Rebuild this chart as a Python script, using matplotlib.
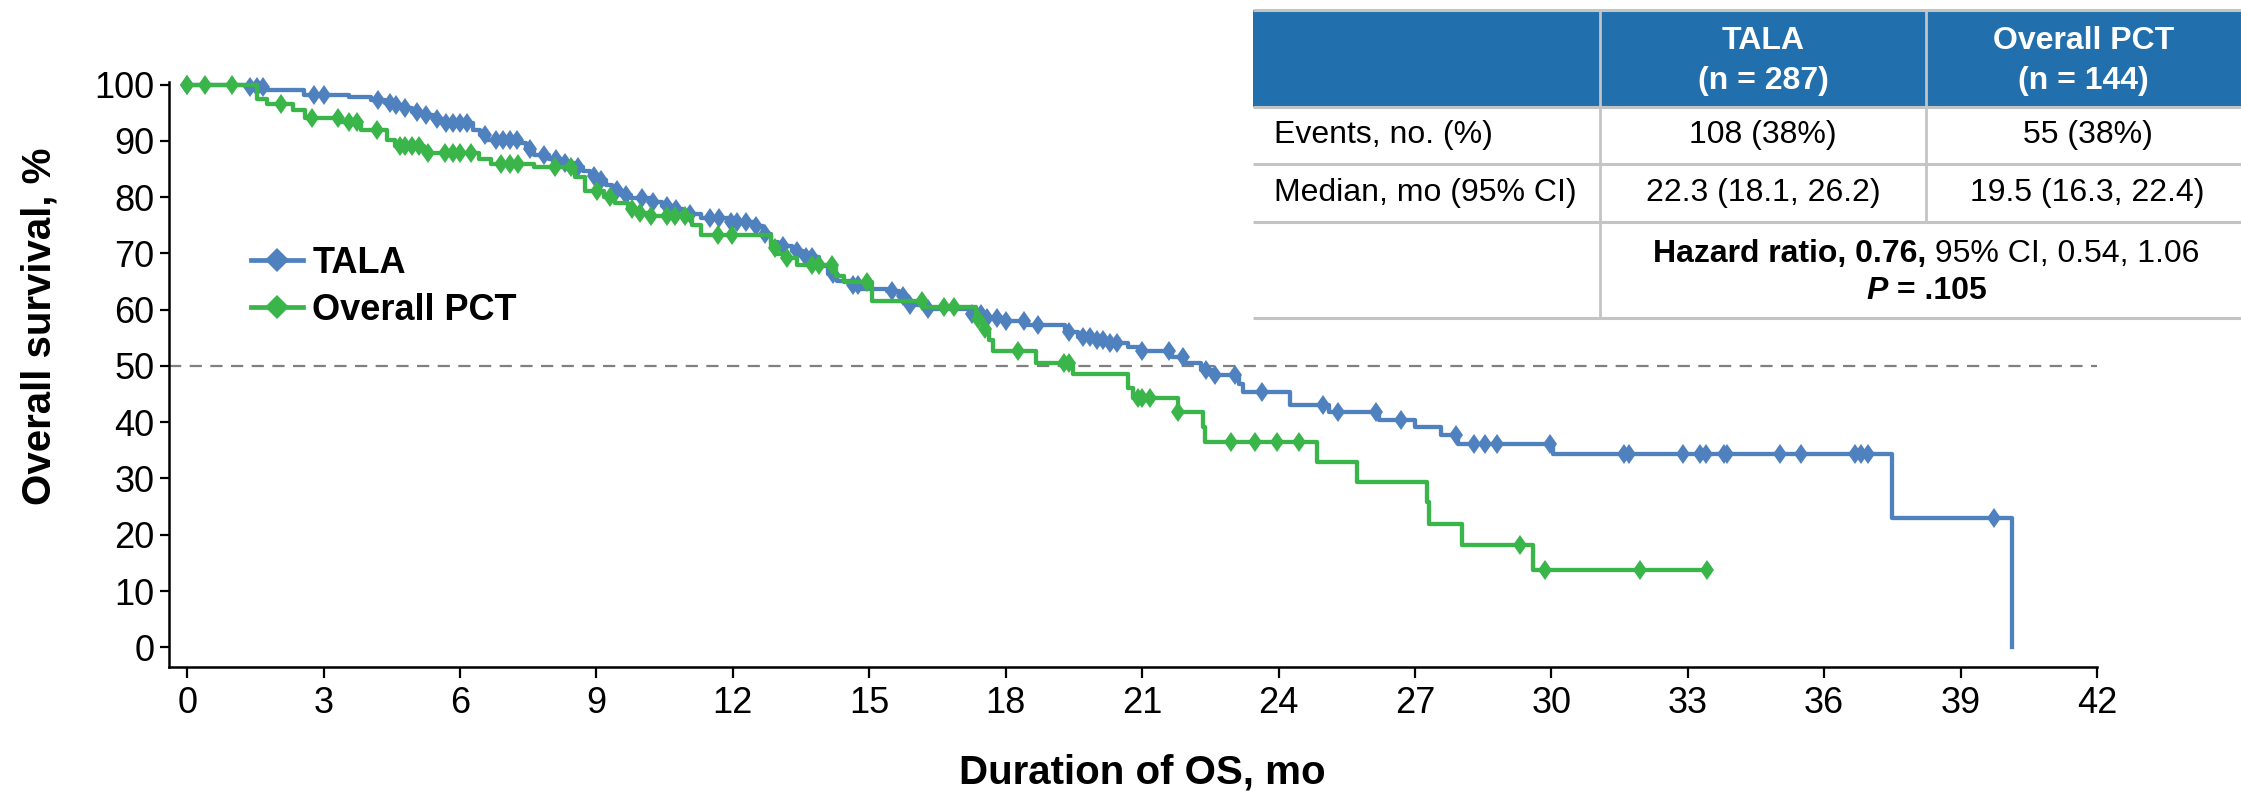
import numpy as np
import matplotlib
matplotlib.use("Agg")
import matplotlib.pyplot as plt
from matplotlib.lines import Line2D
from matplotlib.markers import MarkerStyle
from matplotlib.patches import Rectangle
from matplotlib.transforms import Affine2D

plt.rcParams['font.family'] = ['Liberation Sans', 'DejaVu Sans']

# --- KM data (months, % surviving after each event) ---
tala_t = [1.3, 1.7, 2.56, 3.55, 4.04, 4.35, 4.5, 4.7, 4.95, 5.15, 5.4, 5.6, 6.28, 6.45, 6.6,
          7.3, 7.45, 7.62, 7.95, 8.2, 8.5, 8.7, 8.85, 9.05, 9.2, 9.35, 9.55, 9.75, 10.2, 10.45,
          10.7, 10.9, 11.3, 11.9, 12.5, 12.66, 12.84, 13.0, 13.3, 13.55, 13.9, 14.1, 14.3, 14.6,
          14.8, 15.4, 15.65, 15.85, 16.3, 17.2, 17.6, 18.0, 18.5, 19.3, 19.6, 19.9, 20.3, 20.7,
          21.0, 21.65, 21.95, 22.3, 22.55, 23.14, 23.22, 24.26, 25.1, 26.2, 27.0, 27.58, 27.94,
          30.03, 37.5, 40.12]
tala_s = [99.5, 99.0, 98.2, 97.8, 97.2, 96.8, 96.3, 95.8, 95.2, 94.6, 93.9, 93.1, 92.0, 91.0, 90.2,
          89.6, 88.5, 87.5, 86.7, 86.1, 85.4, 84.6, 83.8, 83.1, 82.1, 81.2, 80.4, 79.9, 79.1, 78.5,
          77.8, 77.0, 76.3, 75.5, 74.8, 73.4, 72.0, 71.3, 70.4, 69.4, 67.8, 66.4, 65.0, 64.3,
          63.7, 63.3, 62.4, 60.9, 60.2, 59.3, 58.6, 57.9, 57.3, 56.0, 55.2, 54.6, 54.0, 53.4,
          52.7, 51.6, 50.5, 49.3, 48.4, 46.8, 45.4, 43.0, 41.8, 40.4, 39.1, 37.7, 36.2,
          34.4, 22.9, 0.0]
tala_cens = [0.0, 1.39, 1.53, 1.66, 2.78, 3.0, 4.19, 4.45, 4.6, 4.8, 5.05, 5.25, 5.5, 5.7, 5.85,
             6.0, 6.15, 6.55, 6.8, 6.95, 7.1, 7.25, 7.55, 7.85, 8.1, 8.3, 8.6, 8.95, 9.1, 9.45,
             9.65, 10.0, 10.25, 10.55, 10.75, 11.05, 11.5, 11.7, 11.95, 12.1, 12.3, 12.5, 12.7,
             13.1, 13.4, 13.6, 13.75, 14.2, 14.65, 14.75, 15.5, 15.75, 15.9, 16.3, 17.25, 17.45,
             17.6, 17.8, 18.0, 18.4, 18.7, 19.4, 19.7, 19.85, 20.0, 20.15, 20.3, 20.45, 21.0,
             21.6, 21.9, 22.4, 22.6, 23.05, 23.64, 24.98, 25.3, 26.15, 26.7, 27.9, 28.3, 28.54,
             28.8, 29.98, 31.6, 31.7, 32.9, 33.28, 33.4, 33.8, 33.86, 35.03, 35.5, 36.67, 36.82,
             36.96, 39.74]

pct_t = [1.53, 1.75, 2.33, 2.6, 3.37, 3.82, 4.4, 4.58, 5.2, 6.42, 6.69, 7.63, 8.53, 8.75, 9.16,
         9.4, 9.7, 9.9, 10.15, 11.1, 11.3, 12.84, 12.95, 13.1, 13.4, 14.26, 14.44, 15.07, 16.2,
         17.35, 17.5, 17.63, 17.72, 18.66, 19.47, 20.68, 20.8, 21.8, 22.34, 22.38, 24.85, 25.73,
         27.27, 27.3, 28.03, 29.6]
pct_s = [97.5, 96.5, 95.4, 94.0, 93.3, 91.9, 90.2, 89.1, 87.9, 86.7, 85.9, 85.3, 83.5, 81.1, 80.0,
         79.0, 77.9, 77.2, 76.6, 75.0, 73.2, 71.0, 69.8, 69.2, 68.0, 66.0, 64.9, 61.6, 60.4,
         58.4, 56.5, 54.6, 52.6, 50.5, 48.6, 46.0, 44.3, 41.8, 39.2, 36.5, 32.9, 29.3,
         25.8, 21.9, 18.1, 13.7]
pct_cens = [0.0, 0.4, 0.99, 2.06, 2.74, 3.32, 3.55, 3.73, 4.17, 4.67, 4.8, 4.95, 5.1, 5.3, 5.66,
            5.85, 6.01, 6.24, 6.91, 7.1, 7.27, 8.08, 8.44, 9.02, 9.3, 9.78, 9.96, 10.2, 10.55,
            10.73, 10.95, 11.67, 11.98, 12.93, 13.2, 13.75, 13.9, 14.17, 14.94, 16.15, 16.64,
            16.87, 17.4, 17.55, 18.27, 19.29, 19.4, 20.9, 21.0, 21.17, 21.8, 22.96, 23.48,
            23.97, 24.44, 29.31, 29.87, 31.95, 33.43]

x_ticks = list(range(0, 43, 3))
y_ticks = list(range(0, 101, 10))

# table text
col_heads = [("TALA", "(n = 287)"), ("Overall PCT", "(n = 144)")]
row_labels = ["Events, no. (%)", "Median, mo (95% CI)"]
tala_cells = ["108 (38%)", "22.3 (18.1, 26.2)"]
pct_cells = ["55 (38%)", "19.5 (16.3, 22.4)"]
hr_bold = "Hazard ratio, 0.76,"
hr_rest = " 95% CI, 0.54, 1.06"
p_italic = "P"
p_rest = " = .105"

BLUE = '#4f81bf'
GREEN = '#39b54a'
HEAD = '#2170ad'
GRID = '#c4c4c4'

W, H = 2241, 792
fig = plt.figure(figsize=(W / 100, H / 100), dpi=100)
ax = fig.add_axes([0.07541, 0.15783, 0.86033, 0.73901])

# slightly narrow diamond used for censor ticks
cens_marker = MarkerStyle('D', transform=Affine2D().scale(0.72, 1.0))


def km_xy(times, surv, cens):
    x = np.r_[0.0, times]
    y = np.r_[100.0, surv]
    if max(cens) > x[-1]:
        x = np.r_[x, max(cens)]
        y = np.r_[y, y[-1]]
    return x, y


def surv_at(times, surv, tc):
    idx = np.searchsorted(times, tc, side='right')
    return np.r_[100.0, surv][idx]


for t, s, c, col, z in [(tala_t, tala_s, tala_cens, BLUE, 3), (pct_t, pct_s, pct_cens, GREEN, 4)]:
    x, y = km_xy(t, s, c)
    ax.step(x, y, where='post', color=col, lw=3.1, clip_on=False, zorder=z)
    ax.plot(c, surv_at(t, s, c), ls='none', marker=cens_marker, ms=10.3, mew=0, color=col,
            clip_on=False, zorder=z)

ax.axhline(50, color='#808080', lw=1.6, dashes=(5.5, 3.8), zorder=2)

ax.set_xlim(-0.4, 42)
ax.set_ylim(-3.5, 100.5)
ax.set_xticks(x_ticks)
ax.set_yticks(y_ticks)
for sp in ['top', 'right']:
    ax.spines[sp].set_visible(False)
for sp in ['left', 'bottom']:
    ax.spines[sp].set_linewidth(1.8)
ax.tick_params(axis='x', labelsize=26, width=1.6, length=8, pad=6)
ax.tick_params(axis='y', labelsize=26, width=1.6, length=6.5, pad=4)

handles = [Line2D([], [], color=BLUE, lw=3.4, marker='D', ms=12.2, mew=0),
           Line2D([], [], color=GREEN, lw=3.4, marker='D', ms=12.2, mew=0)]
ax.legend(handles, ['TALA', 'Overall PCT'], loc='upper left',
          bbox_to_anchor=(251 / W, 1 - 246 / H), bbox_transform=fig.transFigure,
          frameon=False, prop={'weight': 'bold', 'size': 26}, handlelength=1.45,
          handletextpad=0.25, labelspacing=0.32, borderpad=0, borderaxespad=0, numpoints=1)

fig.text(40 / W, 1 - 326 / H, 'Overall survival, %', rotation=90, ha='center', va='center',
         fontsize=29, fontweight='bold')
fig.text(1142 / W, 9 / H, 'Duration of OS, mo', ha='center', va='baseline',
         fontsize=29, fontweight='bold')

# --- summary table drawn in pixel coordinates ---
tab = fig.add_axes([0, 0, 1, 1], zorder=5)
tab.set_xlim(0, W)
tab.set_ylim(H, 0)
tab.set_axis_off()
tab.patch.set_visible(False)

x0, c1, c2, x1 = 1253, 1600, 1926, W
y_top, y_head, y_r1, y_r2, y_bot = 10, 107, 164, 222, 318

tab.add_patch(Rectangle((x0, y_top), x1 - x0, y_head - y_top, facecolor=HEAD, edgecolor='none'))
for yy in [y_top, y_head, y_r1, y_r2, y_bot]:
    tab.plot([x0, x1], [yy, yy], color=GRID, lw=2.2, solid_capstyle='butt')
tab.plot([c1, c1], [y_top, y_bot], color=GRID, lw=2.0)
tab.plot([c2, c2], [y_top, y_r2], color=GRID, lw=2.0)

for (l1, l2), cx in zip(col_heads, [(c1 + c2) / 2, (c2 + x1) / 2]):
    tab.text(cx, 41, l1, ha='center', va='center', color='white', fontsize=23, fontweight='bold')
    tab.text(cx, 81, l2, ha='center', va='center', color='white', fontsize=23, fontweight='bold')

row_y = [(y_head + y_r1) / 2, (y_r1 + y_r2) / 2]
for lab, a, b, yy in zip(row_labels, tala_cells, pct_cells, row_y):
    tab.text(x0 + 21, yy, lab, ha='left', va='center', fontsize=23)
    tab.text((c1 + c2) / 2, yy, a, ha='center', va='center', fontsize=23)
    tab.text((c2 + x1) / 2 + 4, yy, b, ha='center', va='center', fontsize=23)


def centered_runs(runs, cx, yy):
    r = fig.canvas.get_renderer()
    arts = [tab.text(0, yy, s, ha='left', va='center', fontsize=23, **kw) for s, kw in runs]
    widths = [a.get_window_extent(r).width for a in arts]
    xx = cx - sum(widths) / 2
    for a, w in zip(arts, widths):
        a.set_x(xx)
        xx += w


hr_cx = (c1 + x1) / 2 + 6
centered_runs([(hr_bold, {'fontweight': 'bold'}), (hr_rest, {})], hr_cx, 254)
centered_runs([(p_italic, {'fontweight': 'bold', 'fontstyle': 'italic'}),
               (p_rest, {'fontweight': 'bold'})], hr_cx, 291)

fig.savefig('out.png', dpi=100)
